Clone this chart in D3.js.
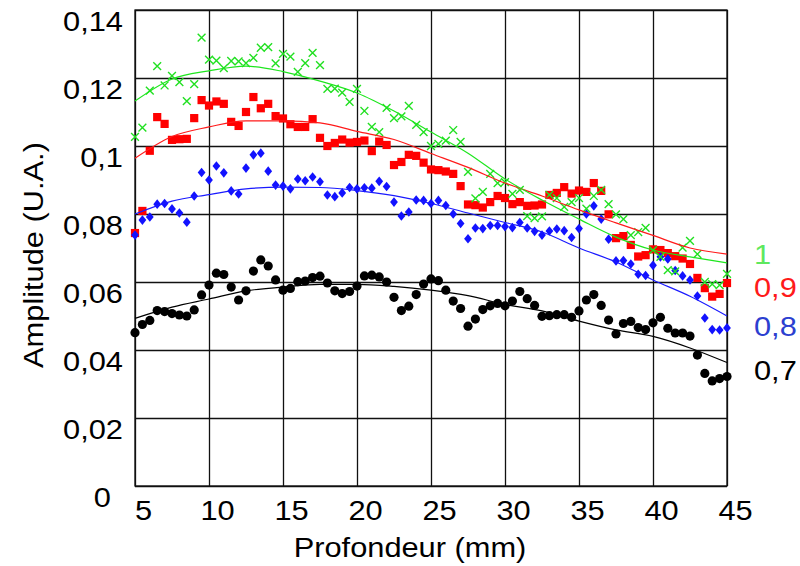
<!DOCTYPE html>
<html><head><meta charset="utf-8">
<script src="https://cdn.jsdelivr.net/npm/d3@7"></script>
<style>body{margin:0;background:#fff}</style>
</head><body><svg id="c" width="800" height="566"></svg>
<script>
// ---------- data ----------
const depth = [5,5.5,6,6.5,7,7.5,8,8.5,9,9.5,10,10.5,11,11.5,12,12.5,13,13.5,14,14.5,
15,15.5,16,16.5,17,17.5,18,18.5,19,19.5,20,20.5,21,21.5,22,22.5,23,23.5,24,24.5,
25,25.5,26,26.5,27,27.5,28,28.5,29,29.5,30,30.5,31,31.5,32,32.5,33,33.5,34,34.5,
35,35.5,36,36.5,37,37.5,38,38.5,39,39.5,40,40.5,41,41.5,42,42.5,43,43.5,44,44.5,45];

const ampGreen = [0.1027,0.1054,0.1163,0.1235,0.1178,0.1206,0.1188,0.1132,0.1182,0.1319,
0.1254,0.1251,0.1229,0.125,0.1249,0.1244,0.1259,0.1289,0.1291,0.1243,
0.1271,0.1263,0.1218,0.1244,0.1274,0.1238,0.1168,0.1169,0.1157,0.113,
0.1168,0.1103,0.1056,0.1041,0.1112,0.1082,0.1087,0.1118,0.1062,0.1041,
0.1,0.1006,0.1016,0.1047,0.1012,0.0924,0.0846,0.0865,0.0918,0.0891,
0.0894,0.0859,0.0871,0.0794,0.0788,0.0793,0.0856,0.0847,0.0821,0.0835,
0.0847,0.0816,0.0853,0.0871,0.0829,0.0799,0.0785,0.0738,0.0747,0.0759,
0.0694,0.0674,0.0635,0.0631,0.0701,0.0721,0.0682,0.06,0.0594,0.0591,0.0624];

const ampRed = [0.0744,0.0809,0.0986,0.1085,0.1065,0.1018,0.102,0.1021,0.1082,0.1135,
0.1119,0.1131,0.1124,0.1071,0.1059,0.11,0.1144,0.1111,0.1124,0.1088,
0.1081,0.1064,0.1056,0.1056,0.1079,0.1024,0.1,0.1009,0.1019,0.101,
0.1012,0.1016,0.0985,0.1013,0.1003,0.0944,0.0953,0.0974,0.0971,0.0951,
0.0931,0.0929,0.0925,0.0918,0.0882,0.0828,0.0826,0.0819,0.0835,0.0853,
0.0847,0.0829,0.0835,0.0824,0.0825,0.0828,0.0856,0.0862,0.0879,0.086,
0.0869,0.0865,0.0891,0.0868,0.0799,0.0729,0.0735,0.0709,0.0675,0.0679,
0.0696,0.0694,0.0685,0.0676,0.0669,0.0653,0.0612,0.0582,0.0557,0.0565,0.0597];

const ampBlue = [0.0738,0.0782,0.0791,0.0829,0.0831,0.0815,0.0803,0.0776,0.0853,0.0922,
0.09,0.0941,0.0921,0.0868,0.0859,0.0935,0.0974,0.0979,0.0926,0.0885,
0.0882,0.0874,0.0903,0.0898,0.0909,0.0895,0.0856,0.0851,0.0862,0.0878,
0.0874,0.0877,0.0876,0.0896,0.0881,0.0835,0.0794,0.0806,0.0841,0.084,
0.0831,0.084,0.0825,0.08,0.0772,0.0727,0.0759,0.0757,0.0766,0.0766,
0.0763,0.076,0.0775,0.0759,0.0749,0.0738,0.075,0.0756,0.0751,0.0731,
0.0757,0.08,0.0824,0.0785,0.0726,0.0662,0.0663,0.0653,0.0623,0.0619,
0.0649,0.0674,0.0668,0.0634,0.0618,0.0606,0.0559,0.0494,0.046,0.0459,0.0465];

const ampBlack = [0.0451,0.0475,0.0487,0.0516,0.0513,0.0507,0.0503,0.05,0.0518,0.0562,
0.0591,0.0626,0.0622,0.0585,0.0547,0.0574,0.0632,0.0665,0.0647,0.0606,
0.0576,0.0581,0.0601,0.0603,0.0613,0.0617,0.0597,0.0574,0.0566,0.0572,
0.0588,0.0618,0.062,0.0615,0.06,0.0555,0.0516,0.0529,0.0563,0.0594,
0.0609,0.0604,0.0576,0.0544,0.0522,0.047,0.0491,0.0519,0.053,0.0537,
0.053,0.0544,0.0572,0.0551,0.0531,0.0499,0.0501,0.0504,0.0504,0.0496,
0.0515,0.0547,0.0563,0.0531,0.0488,0.0447,0.0478,0.0484,0.0466,0.046,
0.048,0.0496,0.0464,0.045,0.045,0.0441,0.0385,0.0331,0.0309,0.0316,0.0322];

// fitted curves
const fitDepth = [5,7.5,10,12.5,15,17.5,20,22.5,25,27.5,30,32.5,35,37.5,40,42.5,45];
const fitGreen = [0.1132,0.1197,0.1221,0.1235,0.1219,0.1191,0.1156,0.1103,0.1041,0.0979,0.0903,0.0841,0.0785,0.0732,0.0694,0.0674,0.0656];
const fitRed   = [0.0964,0.1028,0.1056,0.1074,0.1074,0.1068,0.1043,0.1019,0.0978,0.0937,0.0891,0.0853,0.0812,0.0774,0.0737,0.07,0.0682];
const fitBlue  = [0.08,0.0838,0.0857,0.0874,0.0879,0.0878,0.0869,0.0854,0.0831,0.0803,0.0775,0.0747,0.07,0.0659,0.0606,0.0558,0.05];
const fitBlack = [0.0493,0.0526,0.055,0.0574,0.0585,0.0593,0.0593,0.0587,0.0576,0.056,0.0534,0.0515,0.0485,0.0459,0.044,0.0406,0.0363];

const xTicks = [5,10,15,20,25,30,35,40,45];
const xTickLabels = ["5","10","15","20","25","30","35","40","45"];
const yTicks = [0,0.02,0.04,0.06,0.08,0.1,0.12,0.14];
const yTickLabels = ["0","0,02","0,04","0,06","0,08","0,1","0,12","0,14"];
const legendLabels = ["1","0,9","0,8","0,7"];
const xTitle = "Profondeur (mm)";
const yTitle = "Amplitude (U.A.)";

// ---------- drawing ----------
const FONT = "'Liberation Sans', Arial, Helvetica, sans-serif";
const svg = d3.select("#c");
const W0 = 135, W1 = 727, H0 = 10, H1 = 486;
const x = d3.scaleLinear().domain([5,45]).range([W0,W1]);
const y = d3.scaleLinear().domain([0,0.14]).range([H1,H0]);

const gx = svg.append("g").attr("transform",`translate(0,${H1})`)
  .call(d3.axisBottom(x).tickValues(xTicks).tickSizeInner(-(H1-H0)).tickSizeOuter(0)
        .tickFormat((d,i)=>xTickLabels[i]));
gx.select(".domain").remove();
gx.selectAll(".tick line").attr("stroke","#111").attr("stroke-width",1.3);
gx.selectAll(".tick text").attr("y",0).attr("dy",0).attr("fill","#000")
  .attr("font-size",28).attr("font-family",FONT).attr("text-anchor","middle")
  .attr("transform","translate(8,34) scale(1.1,1)");

const gy = svg.append("g").attr("transform",`translate(${W0},0)`)
  .call(d3.axisLeft(y).tickValues(yTicks).tickSizeInner(-(W1-W0)).tickSizeOuter(0)
        .tickFormat((d,i)=>yTickLabels[i]));
gy.select(".domain").remove();
gy.selectAll(".tick line").attr("stroke","#111").attr("stroke-width",1.3);
gy.selectAll(".tick text").attr("x",0).attr("dy",0).attr("fill","#000")
  .attr("font-size",28).attr("font-family",FONT).attr("text-anchor","end")
  .attr("transform",d=> d===0 ? "translate(-24,20) scale(1.1,1)" : "translate(-12,20) scale(1.1,1)");

svg.append("rect").attr("x",W0).attr("y",H0).attr("width",W1-W0).attr("height",H1-H0)
  .attr("fill","none").attr("stroke","#111").attr("stroke-width",1.3);

const pts = arr => depth.map((d,i)=>[d,arr[i]]);
const plot = svg.append("g");

// black dots
plot.append("g").selectAll("circle").data(pts(ampBlack)).join("circle")
  .attr("cx",d=>x(d[0])).attr("cy",d=>y(d[1])).attr("r",4.6).attr("fill","#000");
// red squares
plot.append("g").selectAll("rect").data(pts(ampRed)).join("rect")
  .attr("x",d=>x(d[0])-4.1).attr("y",d=>y(d[1])-4.1).attr("width",8.2).attr("height",8.2).attr("fill","#ff0000");
// blue diamonds
plot.append("g").selectAll("path").data(pts(ampBlue)).join("path")
  .attr("d","M0,-4.8L3.9,0L0,4.8L-3.9,0Z")
  .attr("transform",d=>`translate(${x(d[0])},${y(d[1])})`).attr("fill","#1212ff");
// green crosses
plot.append("g").selectAll("path").data(pts(ampGreen)).join("path")
  .attr("d","M-3.9,-3.9L3.9,3.9M-3.9,3.9L3.9,-3.9")
  .attr("transform",d=>`translate(${x(d[0])},${y(d[1])})`)
  .attr("stroke","#22e022").attr("stroke-width",1.4).attr("fill","none");

// fitted lines
const line = d3.line().x(d=>x(d[0])).y(d=>y(d[1])).curve(d3.curveMonotoneX);
const fits = [[fitBlack,"#000"],[fitRed,"#ff1a1a"],[fitBlue,"#1a1aff"],[fitGreen,"#1ee61e"]];
fits.forEach(([arr,c])=>{
  plot.append("path").datum(fitDepth.map((d,i)=>[d,arr[i]])).attr("d",line)
    .attr("fill","none").attr("stroke",c).attr("stroke-width",1.2);
});

// legend labels
const legColors = ["#5ee85e","#ff1a1a","#2c3fd0","#000"];
const legY = [264,297,336,380];
legendLabels.forEach((t,i)=>{
  svg.append("text").text(t).attr("font-family",FONT).attr("font-size",28)
    .attr("fill",legColors[i]).attr("transform",`translate(754,${legY[i]}) scale(1.1,1)`);
});

// titles
svg.append("text").text(xTitle).attr("font-family",FONT).attr("font-size",28)
  .attr("text-anchor","middle").attr("transform","translate(410,557) scale(1.1,1)");
svg.append("text").text(yTitle).attr("font-family",FONT).attr("font-size",28)
  .attr("text-anchor","middle").attr("transform","translate(43,255) rotate(-90) scale(1.1,1)");
</script>
</body></html>
